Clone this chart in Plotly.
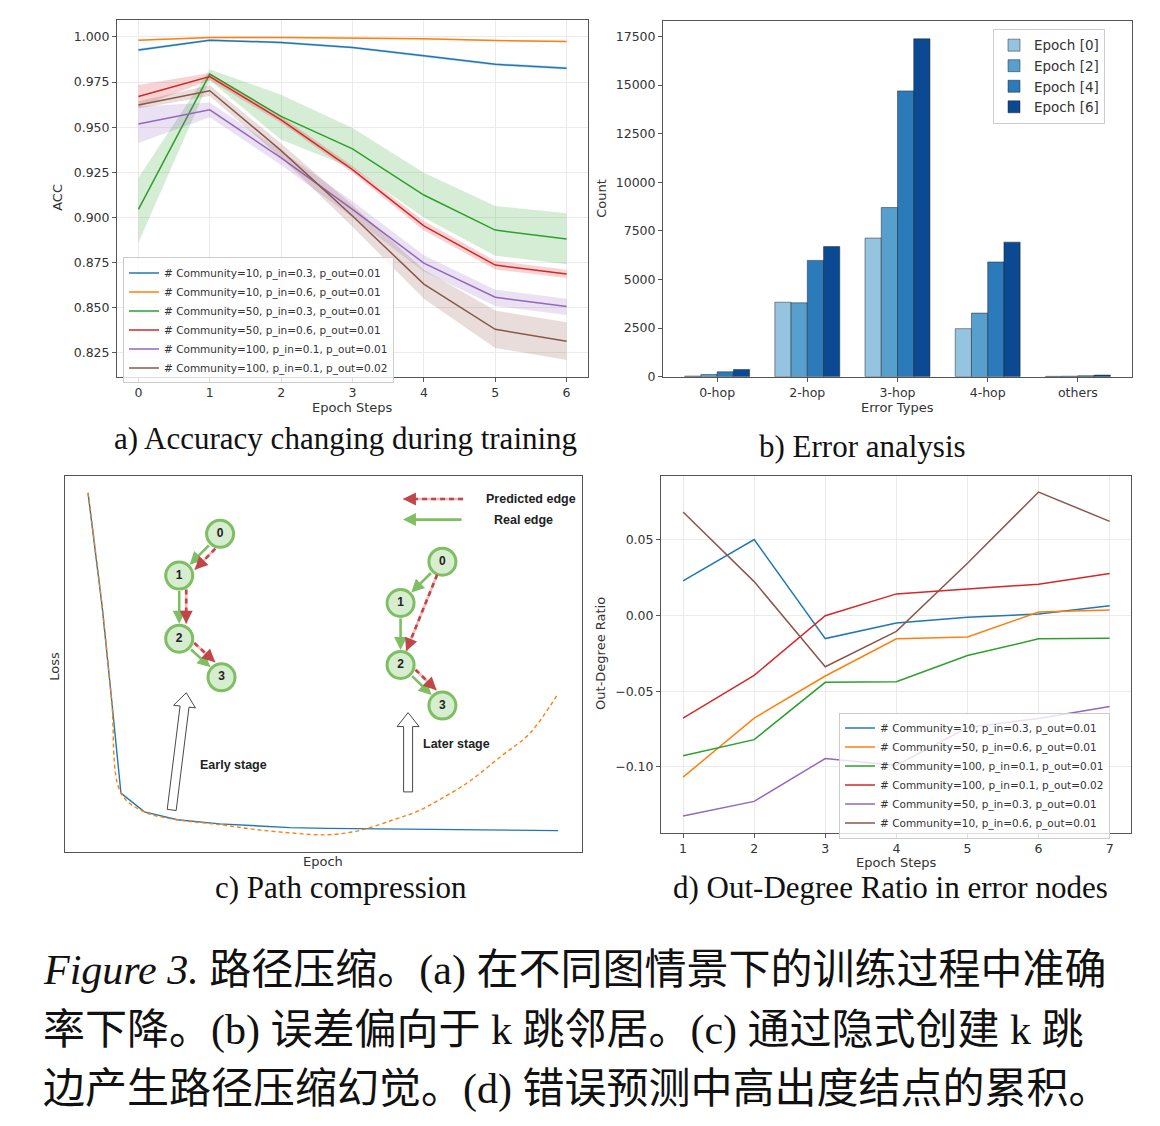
import math
import plotly.graph_objects as go

# page body has an 8px margin, so the figure is drawn 8px in from the corner
OFF = 8
W, H = 1144, 1110

# ---------------- (a) accuracy during training ----------------
acc_steps = [0, 1, 2, 3, 4, 5, 6]
acc_names = [
    "# Community=10, p_in=0.3, p_out=0.01",
    "# Community=10, p_in=0.6, p_out=0.01",
    "# Community=50, p_in=0.3, p_out=0.01",
    "# Community=50, p_in=0.6, p_out=0.01",
    "# Community=100, p_in=0.1, p_out=0.01",
    "# Community=100, p_in=0.1, p_out=0.02",
]
acc_c10_p03 = [0.9927, 0.9982, 0.9969, 0.9941, 0.9895, 0.9848, 0.9826]
acc_c10_p03_lo = [0.9919, 0.9976, 0.9962, 0.9934, 0.9888, 0.9840, 0.9818]
acc_c10_p03_hi = [0.9935, 0.9988, 0.9976, 0.9948, 0.9902, 0.9856, 0.9834]
acc_c10_p06 = [0.9982, 0.9996, 0.9996, 0.9995, 0.9990, 0.9980, 0.9974]
acc_c10_p06_lo = [0.9978, 0.9993, 0.9993, 0.9992, 0.9986, 0.9976, 0.9970]
acc_c10_p06_hi = [0.9986, 0.9999, 0.9999, 0.9998, 0.9994, 0.9984, 0.9978]
acc_c50_p03 = [0.9045, 0.9794, 0.9560, 0.9380, 0.9124, 0.8930, 0.8880]
acc_c50_p03_lo = [0.8860, 0.9760, 0.9430, 0.9274, 0.9000, 0.8788, 0.8740]
acc_c50_p03_hi = [0.9220, 0.9820, 0.9680, 0.9495, 0.9247, 0.9063, 0.9023]
acc_c50_p06 = [0.9670, 0.9780, 0.9541, 0.9265, 0.8953, 0.8736, 0.8686]
acc_c50_p06_lo = [0.9610, 0.9760, 0.9523, 0.9247, 0.8927, 0.8712, 0.8665]
acc_c50_p06_hi = [0.9734, 0.9800, 0.9560, 0.9285, 0.8980, 0.8760, 0.8710]
acc_c100_o01 = [0.9517, 0.9596, 0.9330, 0.9045, 0.8747, 0.8558, 0.8506]
acc_c100_o01_lo = [0.9412, 0.9555, 0.9290, 0.9000, 0.8700, 0.8510, 0.8460]
acc_c100_o01_hi = [0.9614, 0.9637, 0.9370, 0.9090, 0.8790, 0.8600, 0.8550]
acc_c100_o02 = [0.9623, 0.9702, 0.9370, 0.9008, 0.8631, 0.8380, 0.8314]
acc_c100_o02_lo = [0.9603, 0.9672, 0.9330, 0.8948, 0.8550, 0.8277, 0.8210]
acc_c100_o02_hi = [0.9643, 0.9732, 0.9410, 0.9068, 0.8710, 0.8484, 0.8420]

# ---------------- (b) error analysis ----------------
error_types = ["0-hop", "2-hop", "3-hop", "4-hop", "others"]
epoch_names = ["Epoch [0]", "Epoch [2]", "Epoch [4]", "Epoch [6]"]
count_epoch0 = [30, 3830, 7130, 2470, 15]
count_epoch2 = [110, 3800, 8700, 3270, 25]
count_epoch4 = [250, 5980, 14700, 5900, 50]
count_epoch6 = [370, 6690, 17380, 6920, 80]

# ---------------- (c) path compression (schematic) ----------------
loss_epoch = [0, 3, 5, 7, 12, 19, 28, 35, 43, 51, 58, 65, 70, 75, 81, 88, 94, 100]
loss_blue = [0.955, 0.653, 0.407, 0.156, 0.106, 0.085, 0.074, 0.069, 0.064,
             0.062, 0.061, 0.060, 0.059, 0.059, 0.058, 0.057, 0.057, 0.056]
loss_orange = [0.955, 0.653, 0.407, 0.156, 0.106, 0.085, 0.072, 0.060, 0.050,
               0.045, 0.057, 0.085, 0.107, 0.140, 0.186, 0.255, 0.315, 0.421]
node_labels = ["0", "1", "2", "3"]
early_node_x = [28.1, 19.4, 19.4, 28.4]
early_node_y = [0.846, 0.735, 0.567, 0.464]
later_node_x = [75.4, 66.5, 66.5, 75.4]
later_node_y = [0.772, 0.662, 0.497, 0.389]
early_real_edges = [(0, 1), (1, 2), (2, 3)]
early_pred_edges = [(0, 1), (1, 2), (2, 3)]
later_real_edges = [(0, 1), (1, 2), (2, 3)]
later_pred_edges = [(0, 2), (2, 3)]

# ---------------- (d) out-degree ratio ----------------
od_steps = [1, 2, 3, 4, 5, 6, 7]
od_names = [
    "# Community=10, p_in=0.3, p_out=0.01",
    "# Community=50, p_in=0.6, p_out=0.01",
    "# Community=100, p_in=0.1, p_out=0.01",
    "# Community=100, p_in=0.1, p_out=0.02",
    "# Community=50, p_in=0.3, p_out=0.01",
    "# Community=10, p_in=0.6, p_out=0.01",
]
od_c10_p03 = [0.0228, 0.0501, -0.0153, -0.0050, -0.0013, 0.0010, 0.0063]
od_c50_p06 = [-0.1068, -0.0678, -0.0400, -0.0155, -0.0142, 0.0022, 0.0035]
od_c100_o01 = [-0.0926, -0.0820, -0.0442, -0.0438, -0.0265, -0.0155, -0.0151]
od_c100_o02 = [-0.0678, -0.0396, -0.0002, 0.0142, 0.0175, 0.0206, 0.0276]
od_c50_p03 = [-0.1324, -0.1228, -0.0945, -0.0990, -0.0740, -0.0680, -0.0602]
od_c10_p06 = [0.0683, 0.0223, -0.0339, -0.0105, 0.0344, 0.0814, 0.0621]

TAB = ["#1f77b4", "#ff7f0e", "#2ca02c", "#d62728", "#9467bd", "#8c564b"]
BLUES = ["#94c4df", "#57a0ce", "#2b7bba", "#0b4a92"]
GREEN = "#7dbf62"
RED = "#c0464a"
PINK = "#f2bcbc"
FRAME = "#555555"
TXT = "#333333"
SANS = "DejaVu Sans"
SERIF = "'Liberation Serif', 'Noto Sans CJK SC'"


def rgba(hex_color, a):
    h = hex_color.lstrip("#")
    return f"rgba({int(h[0:2], 16)},{int(h[2:4], 16)},{int(h[4:6], 16)},{a})"


def px_x(x):
    return (x - OFF) / W


def px_y(y):
    return 1 - (y - OFF) / H


# panel c axis: data <-> pixel
C_XR = (-4.9, 105.1)
C_PX = (65, 582)
C_YR = (0.0, 1.0)
C_PY = (857, 479)


def c_px(x, y):
    px = C_PX[0] + (x - C_XR[0]) / (C_XR[1] - C_XR[0]) * (C_PX[1] - C_PX[0])
    py = C_PY[0] + (y - C_YR[0]) / (C_YR[1] - C_YR[0]) * (C_PY[1] - C_PY[0])
    return px, py


def c_data(px, py):
    x = C_XR[0] + (px - C_PX[0]) / (C_PX[1] - C_PX[0]) * (C_XR[1] - C_XR[0])
    y = C_YR[0] + (py - C_PY[0]) / (C_PY[1] - C_PY[0]) * (C_YR[1] - C_YR[0])
    return x, y


fig = go.Figure()

# ---- (a)
acc_series = [
    (acc_c10_p03, acc_c10_p03_lo, acc_c10_p03_hi),
    (acc_c10_p06, acc_c10_p06_lo, acc_c10_p06_hi),
    (acc_c50_p03, acc_c50_p03_lo, acc_c50_p03_hi),
    (acc_c50_p06, acc_c50_p06_lo, acc_c50_p06_hi),
    (acc_c100_o01, acc_c100_o01_lo, acc_c100_o01_hi),
    (acc_c100_o02, acc_c100_o02_lo, acc_c100_o02_hi),
]
for i, (mean, lo, hi) in enumerate(acc_series):
    fig.add_trace(go.Scatter(
        x=acc_steps + acc_steps[::-1], y=hi + lo[::-1], fill="toself",
        fillcolor=rgba(TAB[i], 0.2), line=dict(width=0), mode="lines",
        showlegend=False, hoverinfo="skip", xaxis="x", yaxis="y",
    ))
    fig.add_trace(go.Scatter(
        x=acc_steps, y=mean, mode="lines", name=acc_names[i],
        line=dict(color=TAB[i], width=1.5), xaxis="x", yaxis="y", legend="legend",
    ))

# ---- (b)
for i, counts in enumerate([count_epoch0, count_epoch2, count_epoch4, count_epoch6]):
    fig.add_trace(go.Bar(
        x=error_types, y=counts, name=epoch_names[i],
        marker=dict(color=BLUES[i], line=dict(color="rgba(30,30,30,0.6)", width=0.8)),
        xaxis="x2", yaxis="y2", legend="legend2",
    ))

# ---- (c)
fig.add_trace(go.Scatter(
    x=loss_epoch, y=loss_blue, mode="lines", line=dict(color=TAB[0], width=1.4),
    showlegend=False, xaxis="x3", yaxis="y3",
))
fig.add_trace(go.Scatter(
    x=loss_epoch, y=loss_orange, mode="lines", line_shape="spline",
    line=dict(color=TAB[1], width=1.4, dash="4px,3px"),
    showlegend=False, xaxis="x3", yaxis="y3",
))

# ---- (d)
for i, vals in enumerate([od_c10_p03, od_c50_p06, od_c100_o01, od_c100_o02, od_c50_p03, od_c10_p06]):
    fig.add_trace(go.Scatter(
        x=od_steps, y=vals, mode="lines", name=od_names[i],
        line=dict(color=TAB[i], width=1.5), xaxis="x4", yaxis="y4", legend="legend3",
    ))

# ---- panel c diagrams
R = 14
shapes = []
annotations = []


def unit(a, b):
    dx, dy = b[0] - a[0], b[1] - a[1]
    L = math.hypot(dx, dy)
    return dx / L, dy / L


def real_arrow(p0, p1, standoff=R + 1, startstandoff=R):
    annotations.append(dict(
        xref="x3", yref="y3", axref="x3", ayref="y3",
        x=p1[0], y=p1[1], ax=p0[0], ay=p0[1], text="",
        showarrow=True, arrowhead=2, arrowsize=1, arrowwidth=2.6,
        arrowcolor=GREEN, standoff=standoff, startstandoff=startstandoff,
    ))


def pred_arrow(p0, p1, off, r0=R, r1=R + 1):
    a, b = c_px(*p0), c_px(*p1)
    ux, uy = unit(a, b)
    nx, ny = uy, -ux
    s = (a[0] + ux * r0 + nx * off, a[1] + uy * r0 + ny * off)
    e = (b[0] - ux * r1 + nx * off, b[1] - uy * r1 + ny * off)
    neck = (e[0] - ux * 8, e[1] - uy * 8)
    sd, ed, nd = c_data(*s), c_data(*e), c_data(*neck)
    shapes.append(dict(type="line", xref="x3", yref="y3", x0=sd[0], y0=sd[1],
                       x1=ed[0], y1=ed[1], line=dict(color=PINK, width=2.6)))
    shapes.append(dict(type="line", xref="x3", yref="y3", x0=sd[0], y0=sd[1],
                       x1=nd[0], y1=nd[1], line=dict(color=RED, width=2.6, dash="5px,4px")))
    annotations.append(dict(
        xref="x3", yref="y3", axref="x3", ayref="y3",
        x=ed[0], y=ed[1], ax=nd[0], ay=nd[1], text="",
        showarrow=True, arrowhead=2, arrowsize=1, arrowwidth=2.6,
        arrowcolor=RED, standoff=0, startstandoff=0,
    ))


for nx_, ny_, real, pred in [
    (early_node_x, early_node_y, early_real_edges, early_pred_edges),
    (later_node_x, later_node_y, later_real_edges, later_pred_edges),
]:
    for i, j in real:
        real_arrow((nx_[i], ny_[i]), (nx_[j], ny_[j]))
    for i, j in pred:
        off = 0 if abs(i - j) > 1 else 7
        pred_arrow((nx_[i], ny_[i]), (nx_[j], ny_[j]), off)
    fig.add_trace(go.Scatter(
        x=nx_, y=ny_, mode="markers+text", text=[f"<b>{t}</b>" for t in node_labels],
        textposition="middle center",
        textfont=dict(family="Liberation Sans", size=12, color="#222222"),
        marker=dict(size=27, color="#d6edcf", line=dict(color=GREEN, width=3)),
        showlegend=False, xaxis="x3", yaxis="y3", hoverinfo="skip",
    ))

# legend of panel c
pred_arrow((79.8, 0.939), (67.0, 0.939), 0, r0=0, r1=0)
real_arrow((79.8, 0.884), (67.0, 0.884), standoff=0, startstandoff=0)
for txt, x, y in [("Predicted edge", 94.3, 0.939), ("Real edge", 92.6, 0.884),
                  ("Early stage", 30.9, 0.230), ("Later stage", 78.3, 0.286)]:
    annotations.append(dict(xref="x3", yref="y3", x=x, y=y, text=f"<b>{txt}</b>",
                            xanchor="center", yanchor="middle", showarrow=False,
                            font=dict(family="Liberation Sans", size=12.5, color="#222222")))


def block_arrow(base, tip, shaft=4.5, head=11, head_len=14):
    b, t = c_px(*base), c_px(*tip)
    ux, uy = unit(b, t)
    nx, ny = -uy, ux
    nk = (t[0] - ux * head_len, t[1] - uy * head_len)
    pts = [
        (b[0] + nx * shaft, b[1] + ny * shaft),
        (nk[0] + nx * shaft, nk[1] + ny * shaft),
        (nk[0] + nx * head, nk[1] + ny * head),
        t,
        (nk[0] - nx * head, nk[1] - ny * head),
        (nk[0] - nx * shaft, nk[1] - ny * shaft),
        (b[0] - nx * shaft, b[1] - ny * shaft),
    ]
    d = [c_data(*p) for p in pts]
    path = "M " + " L ".join(f"{x:.3f},{y:.4f}" for x, y in d) + " Z"
    shapes.append(dict(type="path", xref="x3", yref="y3", path=path,
                       fillcolor="white", line=dict(color="#333333", width=0.9)))


block_arrow((17.8, 0.111), (20.9, 0.423))
block_arrow((68.1, 0.159), (68.1, 0.370))

# ---- axis titles and captions
for txt, x, y, ang in [
    ("ACC", 58, 199, -90), ("Epoch Steps", 352, 410, 0),
    ("Count", 602, 200, -90), ("Error Types", 897, 410, 0),
    ("Loss", 55, 670, -90), ("Epoch", 323, 867, 0),
    ("Out-Degree Ratio", 601, 658, -90), ("Epoch Steps", 896, 868, 0),
]:
    annotations.append(dict(xref="paper", yref="paper", x=px_x(x), y=px_y(y), text=txt,
                            textangle=ang, showarrow=False, xanchor="center", yanchor="middle",
                            font=dict(family=SANS, size=13, color=TXT)))

for txt, x, y in [
    ("a) Accuracy changing during training", 345, 441),
    ("b) Error analysis", 862, 449),
    ("c) Path compression", 341, 893),
    ("d) Out-Degree Ratio in error nodes", 890, 893),
]:
    annotations.append(dict(xref="paper", yref="paper", x=px_x(x), y=px_y(y), text=txt,
                            showarrow=False, xanchor="center", yanchor="middle",
                            font=dict(family=SERIF, size=31, color="#111111")))

caption_lines = [
    "<i>Figure 3.</i> 路径压缩。(a) 在不同图情景下的训练过程中准确",
    "率下降。(b) 误差偏向于 k 跳邻居。(c) 通过隐式创建 k 跳",
    "边产生路径压缩幻觉。(d) 错误预测中高出度结点的累积。",
]
for txt, y in zip(caption_lines, [977, 1037, 1096]):
    annotations.append(dict(xref="paper", yref="paper", x=px_x(41), y=px_y(y), text=txt,
                            xanchor="left", yanchor="middle", showarrow=False,
                            font=dict(family=SERIF, size=42, color="#111111")))

axis_common = dict(showline=True, mirror=True, linecolor=FRAME, linewidth=1,
                   ticks="outside", ticklen=4, tickcolor=FRAME, zeroline=False,
                   tickfont=dict(family=SANS, size=12.5, color=TXT))
grid = dict(showgrid=True, gridcolor="#ebebeb", gridwidth=1)

legend_common = dict(bgcolor="rgba(255,255,255,0.8)", bordercolor="#cccccc", borderwidth=1,
                     xanchor="left", yanchor="top", itemclick=False)

fig.update_layout(
    width=W, height=H, margin=dict(l=0, r=0, t=0, b=0),
    paper_bgcolor="white", plot_bgcolor="white",
    font=dict(family=SANS, color=TXT),
    barmode="group", bargap=0.28, bargroupgap=0,
    xaxis=dict(domain=[px_x(117), px_x(588)], range=[-0.3, 6.3], tickvals=acc_steps,
               anchor="y", **axis_common, **grid),
    yaxis=dict(domain=[px_y(379), px_y(20)], range=[0.8118, 1.0094],
               tickvals=[0.825, 0.85, 0.875, 0.9, 0.925, 0.95, 0.975, 1.0], tickformat=".3f",
               anchor="x", **axis_common, **grid),
    xaxis2=dict(domain=[px_x(663), px_x(1132)], range=[-0.6, 4.6], anchor="y2",
                showgrid=False, **axis_common),
    yaxis2=dict(domain=[px_y(379), px_y(21)], range=[0, 18300],
                tickvals=[0, 2500, 5000, 7500, 10000, 12500, 15000, 17500], tickformat="d",
                anchor="x2", showgrid=False, **axis_common),
    xaxis3=dict(domain=[px_x(C_PX[0]), px_x(C_PX[1])], range=list(C_XR), anchor="y3",
                showline=True, mirror=True, linecolor=FRAME, linewidth=1,
                showticklabels=False, ticks="", showgrid=False, zeroline=False),
    yaxis3=dict(domain=[px_y(C_PY[0]), px_y(C_PY[1])], range=list(C_YR), anchor="x3",
                showline=True, mirror=True, linecolor=FRAME, linewidth=1,
                showticklabels=False, ticks="", showgrid=False, zeroline=False),
    xaxis4=dict(domain=[px_x(661), px_x(1131)], range=[0.69, 7.3], tickvals=od_steps,
                anchor="y4", **axis_common, **grid),
    yaxis4=dict(domain=[px_y(838), px_y(479)], range=[-0.1435, 0.092],
                tickvals=[-0.10, -0.05, 0.0, 0.05], tickformat=".2f",
                anchor="x4", **axis_common, **grid),
    legend=dict(x=px_x(123), y=px_y(259), font=dict(family=SANS, size=10.5, color=TXT),
                **legend_common),
    legend2=dict(x=px_x(993), y=px_y(29), font=dict(family=SANS, size=13.5, color=TXT),
                 **legend_common),
    legend3=dict(x=px_x(839), y=px_y(717), font=dict(family=SANS, size=10.5, color=TXT),
                 **legend_common),
    shapes=shapes,
    annotations=annotations,
)

fig.write_html("out.html")
